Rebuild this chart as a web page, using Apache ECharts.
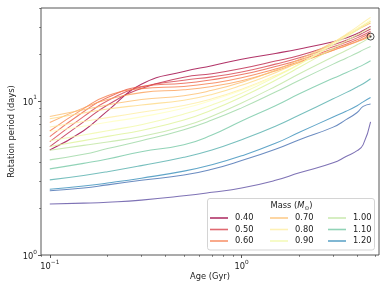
<!DOCTYPE html>
<html><head><meta charset="utf-8">
<script src="https://cdn.jsdelivr.net/npm/echarts@6/dist/echarts.min.js"></script>
<style>html,body{margin:0;padding:0;background:#fff}#c{width:388px;height:291px}</style>
</head><body><div id="c"></div>
<script>
// ---- data ----
const AGES = [0.1, 0.15, 0.2, 0.3, 0.5, 0.7, 1.0, 1.5, 2.0, 3.0, 3.5, 4.0, 4.3, 4.7];
const MASSES = ['0.40','0.45','0.50','0.55','0.60','0.65','0.70','0.75','0.80','0.85','0.90','0.95','1.00','1.05','1.10','1.15','1.20','1.25','1.30'];
const P_040 = [4.8, 6.4, 8.6, 12.8, 15.5, 16.9, 18.6, 20.3, 21.7, 24.2, 25.6, 27.3, 28.6, 30.4];
const P_045 = [5.05, 7.3, 9.4, 12.0, 14.2, 15.0, 16.2, 18.1, 19.7, 23.1, 24.7, 26.4, 27.6, 29.2];
const P_050 = [5.44, 7.9, 10.0, 12.3, 13.6, 14.3, 15.4, 17.3, 19.0, 22.4, 24.0, 25.6, 26.7, 28.3];
const P_055 = [5.86, 8.5, 10.5, 12.4, 13.0, 13.7, 14.8, 16.7, 18.4, 21.8, 23.3, 24.9, 26.0, 27.5];
const P_060 = [6.37, 8.9, 10.8, 12.0, 12.4, 13.0, 14.1, 16.1, 17.9, 21.3, 22.8, 24.3, 25.3, 26.8];
const P_065 = [7.23, 9.0, 10.2, 11.3, 11.8, 12.4, 13.5, 15.6, 17.7, 21.3, 22.8, 24.2, 25.0, 26.1];
const P_070 = [7.9, 8.75, 9.4, 10.2, 10.8, 11.7, 13.2, 15.8, 18.6, 23.9, 26.4, 28.8, 30.2, 32.0];
const P_075 = [7.64, 8.35, 8.85, 9.4, 10.1, 11.0, 12.6, 15.2, 18.0, 23.9, 26.7, 29.3, 30.8, 32.8];
const P_080 = [6.77, 7.35, 7.78, 8.43, 9.33, 10.3, 11.9, 14.6, 17.3, 23.8, 27.0, 30.2, 32.2, 34.8];
const P_085 = [6.32, 6.85, 7.26, 7.87, 8.95, 10.1, 11.7, 14.4, 17.2, 23.3, 26.3, 29.4, 31.2, 33.6];
const P_090 = [5.5, 6.0, 6.4, 7.0, 8.2, 9.4, 11.2, 14.3, 17.3, 23.1, 25.9, 28.8, 30.5, 32.7];
const P_095 = [5.05, 5.52, 5.88, 6.43, 7.5, 8.73, 10.6, 13.6, 16.5, 21.9, 24.4, 26.8, 28.2, 30.0];
const P_100 = [4.78, 5.14, 5.41, 5.87, 6.84, 7.95, 9.68, 12.4, 15.0, 19.3, 21.2, 23.1, 24.2, 26.0];
const P_105 = [4.14, 4.5, 4.9, 5.5, 6.5, 7.5, 9.0, 11.4, 13.6, 17.3, 18.9, 20.4, 21.4, 22.5];
const P_110 = [3.62, 3.93, 4.19, 4.68, 5.19, 6.0, 7.4, 9.3, 11.1, 14.0, 15.2, 16.4, 17.1, 18.2];
const P_115 = [3.07, 3.28, 3.47, 3.8, 4.3, 4.8, 5.6, 6.85, 8.1, 10.3, 11.3, 12.3, 12.9, 13.9];
const P_120 = [2.67, 2.8, 2.93, 3.15, 3.5, 3.85, 4.4, 5.3, 6.25, 7.85, 8.55, 9.3, 9.85, 10.5];
const P_125 = [2.61, 2.72, 2.85, 3.05, 3.3, 3.6, 4.1, 4.85, 5.6, 6.75, 7.55, 8.4, 9.2, 9.55];
const P_130 = [2.14, 2.17, 2.2, 2.27, 2.42, 2.55, 2.72, 3.05, 3.41, 3.96, 4.35, 4.75, 5.2, 7.3];
const PERIODS = [P_040,P_045,P_050,P_055,P_060,P_065,P_070,P_075,P_080,P_085,P_090,P_095,P_100,P_105,P_110,P_115,P_120,P_125,P_130];
const LEGEND_COL1 = ['0.40','0.50','0.60'];
const LEGEND_COL2 = ['0.70','0.80','0.90'];
const LEGEND_COL3 = ['1.00','1.10','1.20'];
const SUN = [4.7, 26.1];
const X_MAJOR = [0.1, 1];
const X_MINOR = [0.09, 0.2, 0.3, 0.4, 0.5, 0.6, 0.7, 0.8, 0.9, 2, 3, 4, 5];
const Y_MAJOR = [1, 10];
const Y_MINOR = [2, 3, 4, 5, 6, 7, 8, 9, 20, 30, 40];

// ---- colour map (Spectral) ----
const SPECTRAL = ['#9e0142','#d53e4f','#f46d43','#fdae61','#fee08b','#ffffbf','#e6f598','#abdda4','#66c2a5','#3288bd','#5e4fa2'];
function hex2rgb(h){return [parseInt(h.slice(1,3),16),parseInt(h.slice(3,5),16),parseInt(h.slice(5,7),16)];}
function spectral(t, a){
  t = Math.max(0, Math.min(1, t));
  const p = t*(SPECTRAL.length-1), i = Math.min(Math.floor(p), SPECTRAL.length-2), f = p-i;
  const c0 = hex2rgb(SPECTRAL[i]), c1 = hex2rgb(SPECTRAL[i+1]);
  const c = c0.map((v,k)=>Math.round(v+(c1[k]-v)*f));
  return 'rgba('+c[0]+','+c[1]+','+c[2]+','+a+')';
}
const mMin = parseFloat(MASSES[0]), mMax = parseFloat(MASSES[MASSES.length-1]);

const FONT = 'DejaVu Sans';
const FS = 8.3;
const AX = '#444';
function powLabel(v){
  const e = Math.round(Math.log10(v));
  return '{b|10}{s|' + (e < 0 ? '\u2212' + (-e) : e) + '}';
}
const richLab = {
  b: {fontFamily: FONT, fontSize: FS, color: '#222', lineHeight: 12, verticalAlign: 'bottom'},
  s: {fontFamily: FONT, fontSize: 5.8, color: '#222', lineHeight: 12, verticalAlign: 'top'}
};

const series = MASSES.map((m, k) => ({
  name: m, type: 'line', xAxisIndex: 0, yAxisIndex: 0,
  data: AGES.map((a, i) => [a, PERIODS[k][i]]),
  symbol: 'none', showSymbol: false, smooth: 0.5,
  color: spectral((parseFloat(m)-mMin)/(mMax-mMin), 0.8),
  lineStyle: {width: 1.05},
  z: 2 + k*0.01
}));
series.push({type: 'scatter', name: 'sun', data: [SUN], symbol: 'circle', symbolSize: 7,
  itemStyle: {color: 'rgba(255,255,255,0)', borderColor: '#222', borderWidth: 1}, z: 5});
series.push({type: 'scatter', name: 'sunDot', data: [SUN], symbol: 'circle', symbolSize: 2.2,
  itemStyle: {color: '#222'}, z: 5});

const legendBase = {orient: 'vertical', top: 214, icon: 'rect', itemWidth: 18, itemHeight: 1.6, itemGap: 3.5,
  padding: 0, z: 60, textStyle: {fontFamily: FONT, fontSize: FS, color: '#222', padding: [0,0,0,2]}};

const option = {
  animation: false,
  grid: {left: 41, right: 9, top: 8, bottom: 36, show: true, borderColor: AX, borderWidth: 0.9, backgroundColor: 'transparent'},
  xAxis: [
    {type: 'log', logBase: 10, min: 0.09, max: 5.2, position: 'bottom',
     axisLine: {show: false}, splitLine: {show: false},
     axisTick: {show: true, length: 3, lineStyle: {color: AX, width: 0.9}, customValues: X_MAJOR},
     axisLabel: {show: true, customValues: X_MAJOR, margin: 4, formatter: powLabel, rich: richLab}},
    {type: 'log', logBase: 10, min: 0.09, max: 5.2, position: 'bottom',
     axisLine: {show: false}, splitLine: {show: false},
     axisTick: {show: true, length: 1.8, lineStyle: {color: AX, width: 0.7}, customValues: X_MINOR},
     axisLabel: {show: false}}
  ],
  yAxis: [
    {type: 'log', logBase: 10, min: 1, max: 40, position: 'left',
     axisLine: {show: false}, splitLine: {show: false},
     axisTick: {show: true, length: 3, lineStyle: {color: AX, width: 0.9}, customValues: Y_MAJOR},
     axisLabel: {show: true, customValues: Y_MAJOR, margin: 4, formatter: powLabel, rich: richLab}},
    {type: 'log', logBase: 10, min: 1, max: 40, position: 'left',
     axisLine: {show: false}, splitLine: {show: false},
     axisTick: {show: true, length: 1.8, lineStyle: {color: AX, width: 0.7}, customValues: Y_MINOR},
     axisLabel: {show: false}}
  ],
  legend: [
    Object.assign({}, legendBase, {left: 210, data: LEGEND_COL1}),
    Object.assign({}, legendBase, {left: 270, data: LEGEND_COL2}),
    Object.assign({}, legendBase, {left: 328, data: LEGEND_COL3})
  ],
  graphic: [
    {type: 'rect', z: 50, shape: {x: 207.5, y: 198.5, width: 167, height: 51.5, r: 2.5},
     style: {fill: 'rgba(255,255,255,0.85)', stroke: '#d4d4d4', lineWidth: 1}},
    {type: 'text', z: 61, x: 291.5, y: 206, style: {
      text: '{a|Mass (}{m|M}{s|\u2299}{a|)}', align: 'center', verticalAlign: 'middle',
      rich: {a: {fontFamily: FONT, fontSize: FS, fill: '#222'},
             m: {fontFamily: FONT, fontSize: FS, fontStyle: 'italic', fill: '#222'},
             s: {fontFamily: FONT, fontSize: 5.8, fill: '#222', padding: [5,0,0,0]}}}},
    {type: 'text', z: 61, x: 210, y: 277, style: {text: 'Age (Gyr)', fontFamily: FONT, fontSize: FS, fill: '#222', align: 'center', verticalAlign: 'middle'}},
    {type: 'text', z: 61, x: 12, y: 131.5, rotation: Math.PI/2, style: {text: 'Rotation period (days)', fontFamily: FONT, fontSize: FS, fill: '#222', align: 'center', verticalAlign: 'middle'}}
  ],
  series: series
};
const chart = echarts.init(document.getElementById('c'), null, {renderer: 'canvas'});
chart.setOption(option);
</script></body></html>
